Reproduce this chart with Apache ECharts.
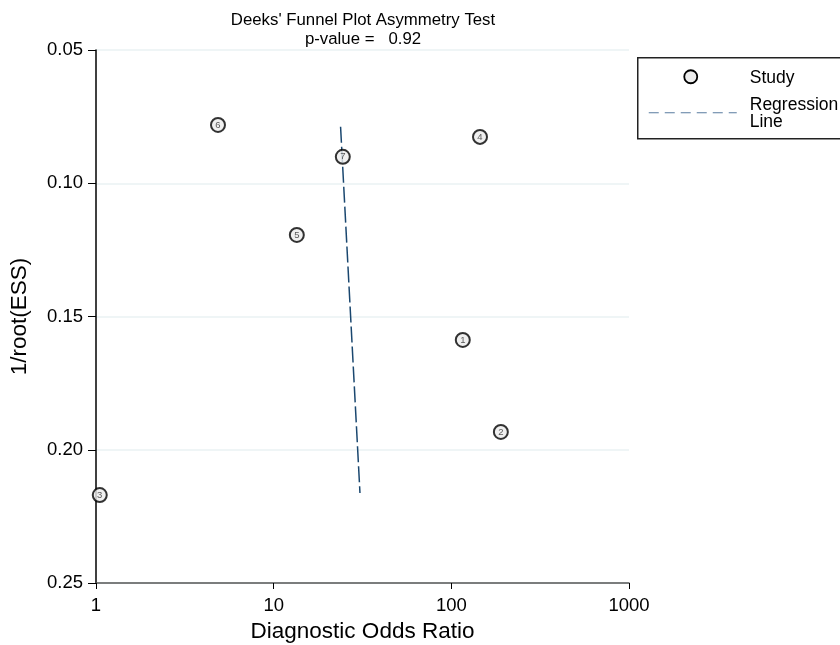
<!DOCTYPE html>
<html>
<head>
<meta charset="utf-8">
<script src="https://cdn.jsdelivr.net/npm/echarts@6/dist/echarts.min.js"></script>
<style>
  html, body { margin: 0; padding: 0; background: #fff; }
  #chart { width: 840px; height: 645px; }
</style>
</head>
<body>
<div id="chart"></div>
<script>
// Study estimates: diagnostic odds ratio vs 1/sqrt(effective sample size)
const studyIds = ['1', '2', '3', '4', '5', '6', '7'];
const studyDOR = [116, 190, 1.05, 145, 13.5, 4.86, 24.5];
const studyInvRootESS = [0.1588, 0.1933, 0.2170, 0.0826, 0.1194, 0.0781, 0.0901];

// Fitted regression line endpoints
const regDOR = [23.8, 30.6];
const regInvRootESS = [0.0788, 0.2162];

const xTicks = [1, 10, 100, 1000];
const yTicks = [0.05, 0.10, 0.15, 0.20, 0.25];

const FONT = 'Liberation Sans, Arial, sans-serif';

const studyData = studyIds.map((id, i) => ({ value: [studyDOR[i], studyInvRootESS[i]], name: id }));
const regData = regDOR.map((x, i) => [x, regInvRootESS[i]]);

const chart = echarts.init(document.getElementById('chart'));
chart.setOption({
  animation: false,
  backgroundColor: '#fff',
  title: {
    text: "Deeks' Funnel Plot Asymmetry Test\np-value =   0.92",
    left: 358,
    textAlign: 'center',
    top: 6,
    textStyle: { fontFamily: FONT, fontSize: 16.8, fontWeight: 'normal', color: '#000', lineHeight: 19 }
  },
  grid: { left: 96, right: 211, top: 50, bottom: 62, containLabel: false, outerBoundsMode: 'none' },
  xAxis: {
    type: 'log',
    logBase: 10,
    min: xTicks[0],
    max: xTicks[xTicks.length - 1],
    name: 'Diagnostic Odds Ratio',
    nameLocation: 'middle',
    nameGap: 37,
    nameTextStyle: { fontFamily: FONT, fontSize: 22.5, color: '#000' },
    axisLine: { lineStyle: { color: '#555', width: 1.5 } },
    axisTick: { show: true, length: 6, lineStyle: { color: '#000' } },
    axisLabel: { fontFamily: FONT, fontSize: 18.5, color: '#000', margin: 13, formatter: v => String(Math.round(v)) },
    splitLine: { show: false },
    minorTick: { show: false }
  },
  yAxis: {
    type: 'value',
    inverse: true,
    min: yTicks[0],
    max: yTicks[yTicks.length - 1],
    interval: 0.05,
    name: '1/root(ESS)',
    nameLocation: 'middle',
    nameGap: 65,
    nameTextStyle: { fontFamily: FONT, fontSize: 22.5, color: '#000' },
    axisLine: { show: true, lineStyle: { color: '#000', width: 1.5 } },
    axisTick: { show: true, length: 8, lineStyle: { color: '#000' } },
    axisLabel: { fontFamily: FONT, fontSize: 18.5, color: '#000', margin: 13, formatter: v => v.toFixed(2) },
    splitLine: { show: true, lineStyle: { color: '#eaf2f3', width: 1.5 } }
  },
  series: [
    {
      name: 'Regression Line',
      type: 'line',
      data: regData,
      symbol: 'none',
      lineStyle: { color: '#1a476f', width: 1.5, type: [16, 4] },
      z: 2
    },
    {
      name: 'Study',
      type: 'scatter',
      data: studyData,
      symbol: 'circle',
      symbolSize: 14,
      itemStyle: { color: '#ececec', borderColor: '#000', borderWidth: 2 },
      label: {
        show: true,
        position: 'inside',
        formatter: p => p.name,
        fontFamily: FONT,
        fontSize: 9.5,
        color: '#333'
      },
      z: 3
    }
  ],
  graphic: [
    {
      type: 'group',
      left: 637,
      top: 57,
      children: [
        { type: 'rect', shape: { x: 0, y: 0, width: 220, height: 81 },
          style: { fill: '#fff', stroke: '#222', lineWidth: 1.5 } },
        { type: 'circle', shape: { cx: 53, cy: 19, r: 6.5 },
          style: { fill: '#ececec', stroke: '#000', lineWidth: 1.8 } },
        { type: 'text', x: 112, y: 11,
          style: { text: 'Study', font: '17.5px ' + FONT, fill: '#000' } },
        { type: 'line', shape: { x1: 11, y1: 55, x2: 99, y2: 55 },
          style: { stroke: '#5a7ca0', lineWidth: 1.2, lineDash: [10, 6] } },
        { type: 'text', x: 112, y: 39,
          style: { text: 'Regression\nLine', font: '17.5px ' + FONT, fill: '#000', lineHeight: 17 } }
      ]
    }
  ]
});
</script>
</body>
</html>
